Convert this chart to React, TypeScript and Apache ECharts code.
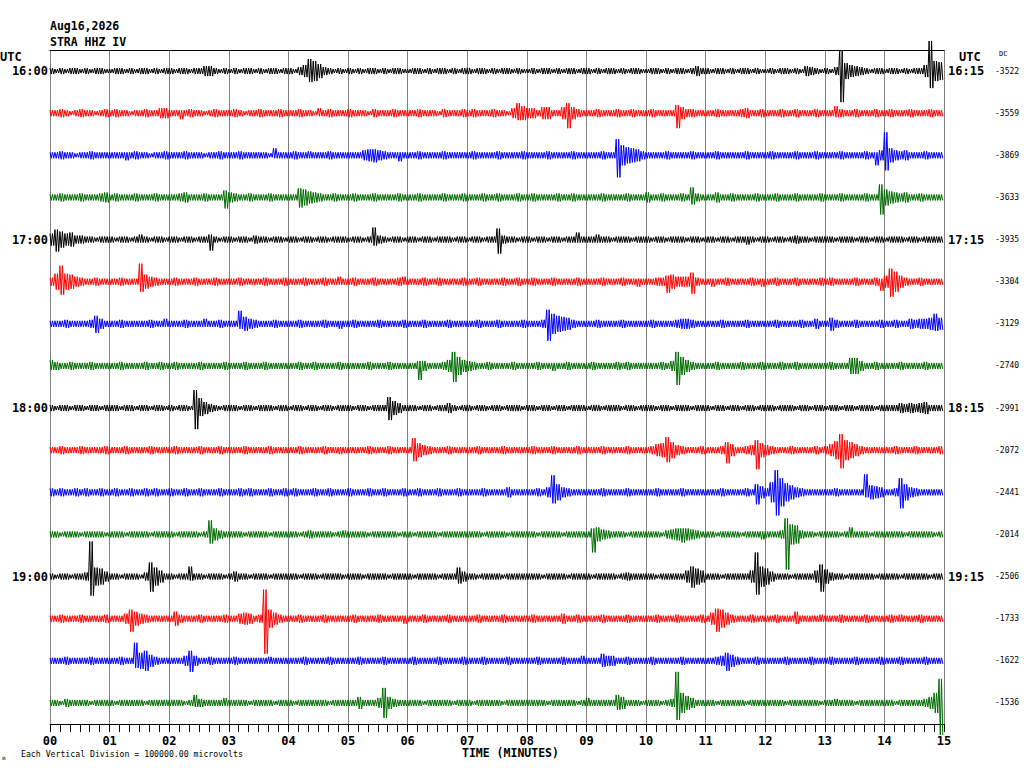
import React, { useEffect, useRef } from "react";
import * as echarts from "echarts";

// ---- labels ----
const TICK_LABELS = ["00", "01", "02", "03", "04", "05", "06", "07", "08", "09", "10", "11", "12", "13", "14", "15"];
const LEFT_LABELS = ["16:00", "", "", "", "17:00", "", "", "", "18:00", "", "", "", "19:00", "", "", ""];
const RIGHT_LABELS = ["16:15", "", "", "", "17:15", "", "", "", "18:15", "", "", "", "19:15", "", "", ""];
const DC_VALUES = ["-3522", "-3559", "-3869", "-3633", "-3935", "-3304", "-3129", "-2740", "-2991", "-2072", "-2441", "-2014", "-2506", "-1733", "-1622", "-1536"];
const TRACE_COLORS = ["#000000", "#ff0000", "#0000ff", "#006b00"];
const STEP_SEC = 5; // one amplitude value per 5 seconds
const SPACING = 42; // amplitude units between trace baselines
const SWINGS_PER_STEP = 2; // oscillations drawn inside each 5 s envelope cell

// ---- trace envelopes (half amplitude per 5 s; [up, down] where asymmetric) ----
type V = number | [number, number];
const TRACE_00: V[] = [
  3,2,3,2,3,3,2,3,2,3,3,2, 2,3,3,2,3,2,3,3,2,3,2,3, 3,2,3,3,2,3,3,5,5,3,2,3,
  2,3,2,3,3,2,3,2,3,3,2,3, 3,2,4,6,[12,11],10,7,4,3,2,3,2, 3,2,3,2,3,3,2,3,2,3,3,2,
  2,3,3,2,3,2,3,3,2,3,2,3, 3,2,3,3,2,3,2,3,3,2,3,2, 2,3,2,3,3,2,3,2,3,3,2,3,
  3,2,3,2,3,3,2,3,2,3,3,2, 2,3,3,2,3,2,3,3,2,3,5,3, 3,2,3,3,2,3,2,3,3,2,3,2,
  2,3,2,3,3,2,3,2,5,4,3,2, 3,2,4,[21,31],8,6,5,4,3,2,3,3, 2,3,3,2,3,2,3,3,6,[30,17],10,9,
];
const TRACE_01: V[] = [
  3,3,4,3,2,3,4,3,3,2,3,4, 3,4,3,3,2,3,3,4,3,3,5,5, 3,3,[3,6],3,4,3,3,2,3,4,3,3,
  3,4,3,2,3,3,4,3,3,3,4,3, 3,3,4,3,3,2,[5,3],3,4,3,3,3, 4,3,3,3,2,4,3,3,3,4,3,3,
  3,3,4,3,3,3,2,4,3,3,3,4, 3,4,3,3,3,4,3,3,2,5,[10,7],7, 5,5,3,6,6,3,3,6,[10,15],6,4,3,
  3,3,4,3,3,3,4,3,3,4,3,3, 3,4,3,3,3,3,[8,15],6,4,4,3,3, 3,3,4,3,3,3,3,4,5,3,3,4,
  3,3,3,4,3,3,4,3,3,3,4,3, 3,3,[7,4],4,3,3,4,3,3,3,4,3, 3,4,3,3,3,4,3,3,3,4,3,3,
];
const TRACE_02: V[] = [
  3,3,4,3,3,2,3,3,4,3,3,3, 3,3,3,[3,5],3,4,3,3,2,3,3,4, 3,3,3,4,3,3,3,2,3,3,4,3,
  3,3,4,3,3,3,3,3,2,[7,3],3,3, 3,4,3,3,[4,3],3,3,3,4,3,3,3, 3,3,3,5,6,[6,7],5,4,3,3,[3,6],3,
  3,3,4,3,3,3,3,4,3,3,3,3, 3,4,3,3,3,3,4,3,3,3,3,4, 3,3,3,3,4,3,3,3,3,4,3,3,
  3,3,3,4,3,3,[16,22],10,8,7,6,4, 3,3,3,3,4,3,3,3,3,4,3,3, 3,3,4,3,3,3,3,3,4,3,3,3,
  3,4,3,3,3,3,4,3,3,3,4,3, 3,3,3,4,3,3,3,3,4,3,[3,10],5, [23,15],7,5,4,5,3,3,3,4,3,3,3,
];
const TRACE_03: V[] = [
  3,3,4,3,3,3,4,3,3,3,4,5, 3,4,3,3,3,4,3,3,3,4,3,3, 3,3,4,5,3,3,3,4,3,3,3,[7,11],
  5,4,3,3,4,3,3,3,4,3,3,3, 3,3,[9,10],8,6,5,4,3,3,4,3,3, 3,4,3,3,3,4,3,3,3,3,4,3,
  3,3,4,3,3,3,3,4,3,3,3,4, 3,3,3,4,3,3,4,3,3,3,4,3, 3,4,3,3,3,3,4,3,3,4,3,3,
  3,3,3,4,3,3,3,3,4,3,3,3, 5,3,3,4,3,3,3,4,3,[10,7],4,3, 3,3,5,3,3,4,3,3,3,3,4,3,
  3,3,4,3,3,3,4,3,3,3,3,4, 3,3,3,4,3,3,3,3,4,3,3,[13,17], 8,6,5,4,5,3,3,4,3,3,3,3,
];
const TRACE_04: V[] = [
  6,[10,12],8,6,7,4,4,3,3,2,3,3, 3,2,3,3,2,3,[5,3],3,2,3,3,2, 3,3,2,3,3,2,3,3,[5,11],3,2,3,
  3,2,3,3,2,4,3,3,2,3,3,2, 3,3,2,3,3,2,3,3,2,3,3,3, 2,3,3,2,3,[12,6],4,3,2,3,3,2,
  3,3,2,3,3,2,3,3,3,2,3,3, 2,3,3,2,3,3,[11,14],4,3,3,2,3, 3,2,3,3,2,3,3,2,3,3,[7,3],3,
  3,3,[5,3],3,3,2,3,3,3,2,3,3, 3,2,3,3,2,3,3,3,2,3,3,2, 3,3,2,3,3,2,3,3,[3,5],3,2,3,
  3,2,3,3,2,3,4,3,3,2,3,3, 3,3,2,3,3,3,2,3,3,2,3,3, 2,3,3,3,2,3,3,2,3,3,3,3,
];
const TRACE_05: V[] = [
  4,8,[16,13],8,7,5,4,3,3,4,3,3, 3,3,4,3,3,3,[18,10],7,5,4,3,3, 3,4,3,3,3,4,3,3,3,4,3,3,
  3,3,4,3,3,3,3,4,3,3,3,4, 3,3,3,4,3,3,3,4,3,3,[5,3],3, 3,4,3,3,3,4,3,3,3,3,4,[5,3],
  3,3,3,4,3,3,4,3,3,3,3,4, 3,3,4,3,3,3,3,4,3,3,4,3, 3,4,3,3,3,4,3,3,3,3,4,3,
  3,3,3,4,3,3,3,4,3,3,[3,5],3, 3,3,4,4,[6,11],7,5,5,5,[9,12],4,3, 3,[3,5],3,3,4,3,3,3,3,4,3,[3,5],
  3,3,4,3,3,3,4,3,3,3,3,4, 3,4,3,3,3,3,4,3,3,3,4,[3,9], 6,[13,15],10,6,4,3,3,4,3,3,3,3,
];
const TRACE_06: V[] = [
  3,3,3,4,3,3,3,3,4,[8,9],5,3, 3,3,4,3,3,3,3,3,4,3,3,[5,3], 3,3,3,4,3,3,3,[5,3],3,3,4,3,
  3,3,[13,5],7,5,4,3,3,3,4,3,3, 3,3,4,3,3,3,3,4,3,3,[3,5],3, 3,4,3,3,3,3,4,3,3,3,3,4,
  3,3,3,4,3,3,3,3,4,3,3,3, 3,3,4,3,3,3,4,3,3,3,3,4, 3,3,3,4,[14,17],10,8,7,6,4,3,3,
  3,3,4,3,3,3,3,4,3,3,3,3, 3,4,3,3,3,3,4,5,5,4,3,3, 3,3,3,4,3,3,3,3,4,3,3,3,
  3,3,4,3,3,3,3,4,3,3,5,3, 3,[6,7],4,3,3,3,4,3,3,3,3,4, 3,3,4,3,3,5,4,5,5,6,[10,7],6,
];
const TRACE_07: V[] = [
  [6,4],4,3,3,4,3,3,3,4,3,3,3, 3,3,4,3,3,3,3,4,3,3,4,3, 3,4,3,3,3,3,4,3,3,3,3,4,
  3,3,3,4,3,3,3,4,3,3,3,3, 3,3,4,3,3,4,3,3,3,3,4,3, 3,3,3,3,4,3,3,3,4,3,3,3,
  3,3,[5,14],5,3,3,3,4,6,[14,16],9,6, 5,4,3,3,4,3,3,3,3,4,3,3, 3,3,4,3,3,[3,5],3,3,4,3,3,3,
  3,4,3,3,3,3,4,3,4,3,3,3, 3,3,3,4,3,5,[14,19],9,6,4,3,3, 3,3,4,3,3,3,3,4,3,3,3,4,
  3,3,3,4,3,3,4,3,3,3,3,3, 3,4,3,3,3,8,[8,8],5,3,3,4,3, 3,3,3,4,3,3,3,3,4,3,3,3,
];
const TRACE_08: V[] = [
  3,2,3,3,2,3,3,2,3,3,2,3, 3,3,2,3,3,2,3,3,2,3,3,2, 3,2,3,3,2,[18,21],[10,8],6,4,3,2,3,
  3,3,2,3,3,2,3,3,3,2,3,3, 2,3,3,2,3,3,2,3,3,2,3,3, 3,2,3,3,2,3,3,3,[11,12],7,5,3,
  3,3,2,3,3,2,3,3,5,3,2,3, 3,2,3,3,2,3,3,2,3,3,3,2, 3,3,2,3,3,2,3,3,2,3,3,3,
  2,3,3,2,3,3,3,2,3,3,2,3, 3,3,2,3,3,2,3,3,3,2,3,3, 3,2,3,3,2,3,3,2,3,3,2,3,
  3,3,2,3,3,3,2,3,3,2,3,3, 2,3,3,2,3,3,2,3,3,3,2,3, 3,3,3,5,4,5,4,5,6,3,3,3,
];
const TRACE_09: V[] = [
  3,3,4,3,3,3,4,3,3,3,3,4, 3,3,3,4,3,3,3,3,4,3,3,3, 3,4,3,3,3,3,4,3,3,3,4,3,
  3,3,3,4,3,3,3,3,4,3,3,3, 3,3,4,3,3,3,3,4,3,3,[3,4],3, 3,3,3,3,4,3,3,3,4,3,3,3,
  3,[12,11],7,5,4,3,3,3,4,3,3,3, 3,3,4,3,3,3,3,4,3,3,3,3, 3,4,3,3,3,4,3,3,3,3,4,3,
  3,3,3,4,3,3,3,3,4,3,3,3, 3,4,6,7,[13,12],8,5,4,3,3,3,4, 3,3,3,4,[8,13],6,3,3,4,5,[10,19],7,
  5,4,3,3,3,4,3,3,3,3,4,3, 4,6,9,[16,18],10,8,6,4,3,3,3,3, 3,3,4,3,3,3,4,3,3,3,3,4,
];
const TRACE_10: V[] = [
  4,3,4,3,3,4,3,4,3,3,4,3, 3,4,3,3,4,3,3,4,3,4,3,3, 4,3,3,4,3,3,4,3,3,3,4,3,
  3,3,4,3,4,3,3,3,4,3,3,4, 3,4,3,3,3,4,3,3,4,3,3,3, 4,3,3,3,4,3,3,4,3,3,3,4,
  3,3,4,3,3,3,4,3,3,3,4,3, 3,3,3,4,3,3,3,3,5,3,3,3, 3,3,4,3,5,[17,11],8,5,4,3,3,3,
  3,3,3,4,3,3,3,3,4,3,3,3, 3,3,4,3,3,3,3,4,3,3,3,3, 3,3,3,4,3,3,3,3,4,3,[8,12],6,
  4,10,[22,23],14,9,7,5,4,3,3,3,3, 3,3,4,3,3,3,3,3,[18,5],7,6,5, 3,3,4,[14,16],8,5,4,3,3,3,3,3,
];
const TRACE_11: V[] = [
  3,3,2,3,3,3,2,3,3,3,3,2, 3,3,3,2,3,3,3,3,2,3,3,3, 3,2,3,3,3,3,2,3,[14,9],6,4,3,
  3,3,3,2,3,3,3,3,2,3,3,3, 3,3,2,3,4,3,3,3,3,2,3,[4,3], 3,3,3,3,2,3,3,3,3,3,2,3,
  3,2,3,3,3,3,2,3,3,3,3,3, 3,3,3,2,3,3,3,3,2,3,3,3, 3,3,2,3,3,3,3,2,3,3,3,3,
  3,[6,18],7,5,4,3,3,3,2,3,3,3, 3,3,3,2,4,5,6,[6,8],6,5,4,3, 3,3,2,3,3,3,3,2,3,3,3,[3,5],
  3,3,3,4,[16,35],10,9,4,3,3,2,3, 3,3,3,2,3,[7,3],3,3,3,2,3,3, 3,3,3,3,2,3,3,3,3,3,2,3,
];
const TRACE_12: V[] = [
  3,2,3,3,2,3,3,4,[35,19],9,8,5, 3,3,2,3,3,3,2,4,[14,15],9,6,3, 3,2,3,3,[10,4],3,3,2,3,3,3,2,
  3,5,3,3,2,3,3,3,2,3,3,3, 3,3,2,3,3,3,2,3,3,3,3,2, 3,3,3,2,3,3,3,3,2,3,3,3,
  3,2,3,3,3,3,2,3,3,3,[9,7],5, 3,3,2,3,3,3,3,2,3,3,3,3, 3,3,3,2,3,3,3,3,2,3,3,3,
  3,2,3,3,3,3,2,3,4,3,3,3, 3,3,2,3,3,3,3,3,6,[10,11],8,6, 3,3,3,2,3,3,3,3,3,6,[24,18],10,
  8,5,3,3,3,2,3,3,3,3,6,[12,15], 7,4,3,3,2,3,3,3,3,3,2,3, 3,3,3,2,3,3,3,3,3,2,3,3,
];
const TRACE_13: V[] = [
  3,3,4,3,3,3,4,3,3,3,3,4, 3,3,3,5,[9,13],7,5,4,3,3,3,3, 3,[7,7],4,3,3,3,4,3,3,3,3,4,
  3,3,5,6,5,3,4,[29,35],9,6,4,3, 3,3,4,3,3,3,3,4,3,3,3,3, 3,4,3,3,3,3,4,3,3,3,3,[3,5],
  3,3,3,4,3,3,3,3,4,3,3,3, 3,3,4,3,3,3,3,4,3,3,3,3, 3,4,3,3,3,3,3,5,3,3,4,3,
  3,3,3,4,3,3,3,3,4,3,3,3, 3,3,4,3,3,3,4,3,3,3,3,4, 3,6,[10,13],9,6,4,3,3,3,4,3,3,
  3,3,4,3,3,3,[7,5],3,3,3,3,[4,3], 3,3,3,4,3,3,3,3,4,3,3,3, 3,4,3,[4,3],3,3,3,4,3,3,3,3,
];
const TRACE_14: V[] = [
  3,3,3,4,3,3,3,3,4,3,3,3, 3,3,4,3,3,[18,7],8,10,6,4,3,3, 3,3,3,5,[10,11],5,3,3,4,3,3,3,
  3,4,3,3,3,3,3,3,[4,3],3,3,3, 3,3,3,4,3,3,3,3,4,3,3,3, 3,3,4,3,3,3,3,4,3,3,3,3,
  3,4,3,3,3,3,4,3,3,3,3,4, 3,3,3,4,3,3,3,3,4,3,3,3, 3,3,4,3,3,3,3,4,3,3,3,[5,3],
  3,3,3,[7,6],5,5,3,3,4,3,3,3, 3,4,3,3,3,3,3,4,3,3,3,3, 3,3,4,5,[8,10],6,4,3,3,3,4,3,
  3,3,3,3,4,3,3,3,3,4,3,3, 3,4,3,3,3,3,4,3,3,3,3,4, 3,3,3,4,3,3,3,3,4,3,3,3,
];
const TRACE_15: V[] = [
  3,3,2,4,3,3,3,3,2,3,3,3, 3,2,3,3,3,3,3,2,3,3,3,3, 3,3,3,2,3,[8,4],4,3,3,3,3,[5,3],
  3,3,3,3,2,3,3,3,3,2,3,3, 3,2,3,3,3,3,3,3,2,3,3,3, 3,3,[6,6],3,3,3,5,[15,15],6,4,3,3,
  3,3,3,2,3,3,3,3,3,2,3,3, 3,2,3,3,3,3,3,2,3,3,3,3, 3,3,3,3,2,3,3,3,3,3,2,3,
  [5,3],3,3,3,3,3,[8,7],6,3,3,3,2, 3,3,3,2,3,4,[31,17],10,7,5,3,3, 3,3,2,3,3,3,3,3,2,3,3,3,
  3,3,3,3,2,3,3,3,3,3,3,2, 3,3,[4,3],3,3,3,2,3,3,3,3,3, 3,3,2,3,3,3,3,3,4,6,10,[24,32],
];

const TRACES: V[][] = [
  TRACE_00, TRACE_01, TRACE_02, TRACE_03, TRACE_04, TRACE_05, TRACE_06, TRACE_07,
  TRACE_08, TRACE_09, TRACE_10, TRACE_11, TRACE_12, TRACE_13, TRACE_14, TRACE_15,
];

const MONO = '"DejaVu Sans Mono", monospace';

function buildOption(): any {
  const n = TRACES.length;
  const stepMin = STEP_SEC / 60;
  const sub = stepMin / (SWINGS_PER_STEP * 2);
  const series = TRACES.map((amps, k) => {
    const base = (n - k - 0.5) * SPACING;
    const data: number[][] = [];
    amps.forEach((v, i) => {
      const up = Array.isArray(v) ? v[0] : v;
      const dn = Array.isArray(v) ? v[1] : v;
      const t = i * stepMin;
      for (let s = 0; s < SWINGS_PER_STEP; s++) {
        data.push([t + (2 * s) * sub, base + up]);
        data.push([t + (2 * s + 1) * sub, base - dn]);
      }
    });
    return {
      type: "line",
      xAxisIndex: 0,
      yAxisIndex: 0,
      data,
      symbol: "none",
      showSymbol: false,
      clip: false,
      silent: true,
      lineStyle: { color: TRACE_COLORS[k % 4], width: 1, join: "bevel" },
      z: 3,
    };
  });

  const textEl = (x: number, y: number, text: string, font: string, align = "left") => ({
    type: "text",
    x,
    y,
    silent: true,
    style: { text, fill: "#000", font, align, verticalAlign: "middle" },
  });

  return {
    animation: false,
    backgroundColor: "#ffffff",
    grid: { left: 50, top: 50, width: 894, height: 674, containLabel: false },
    xAxis: [
      {
        type: "value",
        min: 0,
        max: 15,
        interval: 1,
        position: "bottom",
        axisLine: { show: true, lineStyle: { color: "#000", width: 1 } },
        axisTick: { show: true, length: 8, lineStyle: { color: "#000", width: 1 } },
        minorTick: { show: true, splitNumber: 6, length: 8, lineStyle: { color: "#000", width: 1 } },
        axisLabel: {
          margin: 11,
          color: "#000",
          fontFamily: MONO,
          fontWeight: "bold",
          fontSize: 12,
          formatter: (v: number) => TICK_LABELS[Math.round(v)] ?? "",
        },
        splitLine: { show: true, lineStyle: { color: "#808080", width: 1 } },
      },
      {
        type: "value",
        min: 0,
        max: 15,
        position: "top",
        axisLine: { show: true, lineStyle: { color: "#000", width: 1 } },
        axisTick: { show: false },
        axisLabel: { show: false },
        splitLine: { show: false },
      },
    ],
    yAxis: [
      { type: "value", min: 0, max: SPACING * TRACES.length, show: false, position: "left" },
      {
        type: "category",
        data: LEFT_LABELS,
        inverse: true,
        position: "left",
        axisLine: { show: false },
        axisTick: { show: false },
        splitLine: { show: false },
        axisLabel: { margin: 2, color: "#000", fontFamily: MONO, fontWeight: "bold", fontSize: 12, interval: 0 },
      },
      {
        type: "category",
        data: RIGHT_LABELS,
        inverse: true,
        position: "right",
        axisLine: { show: false },
        axisTick: { show: false },
        splitLine: { show: false },
        axisLabel: { margin: 4, color: "#000", fontFamily: MONO, fontWeight: "bold", fontSize: 12, interval: 0 },
      },
      {
        type: "category",
        data: DC_VALUES,
        inverse: true,
        position: "right",
        offset: 51,
        axisLine: { show: false },
        axisTick: { show: false },
        splitLine: { show: false },
        axisLabel: { margin: 0, color: "#000", fontFamily: MONO, fontSize: 8, interval: 0 },
      },
    ],
    graphic: [
      textEl(50, 26, "Aug16,2026", `bold 11.5px ${MONO}`),
      textEl(50, 42, "STRA HHZ IV", `bold 11.5px ${MONO}`),
      textEl(0, 57, "UTC", `bold 12px ${MONO}`),
      textEl(959, 57, "UTC", `bold 12px ${MONO}`),
      textEl(999, 54, "DC", `7px ${MONO}`),
      textEl(462, 753, "TIME (MINUTES)", `bold 11.5px ${MONO}`),
      textEl(21, 754, "Each Vertical Division = 100000.00 microvolts", `8.2px ${MONO}`),
      textEl(2, 757, "ʍ", `6px ${MONO}`),
    ],
    series,
  };
}

export default function App() {
  const ref = useRef<HTMLDivElement | null>(null);
  useEffect(() => {
    if (!ref.current) return;
    const chart = echarts.init(ref.current, undefined, { renderer: "svg" });
    chart.setOption(buildOption());
    return () => chart.dispose();
  }, []);
  return (
    <div
      ref={ref}
      style={{ position: "absolute", left: 0, top: 0, width: 1024, height: 768, background: "#fff" }}
    />
  );
}
